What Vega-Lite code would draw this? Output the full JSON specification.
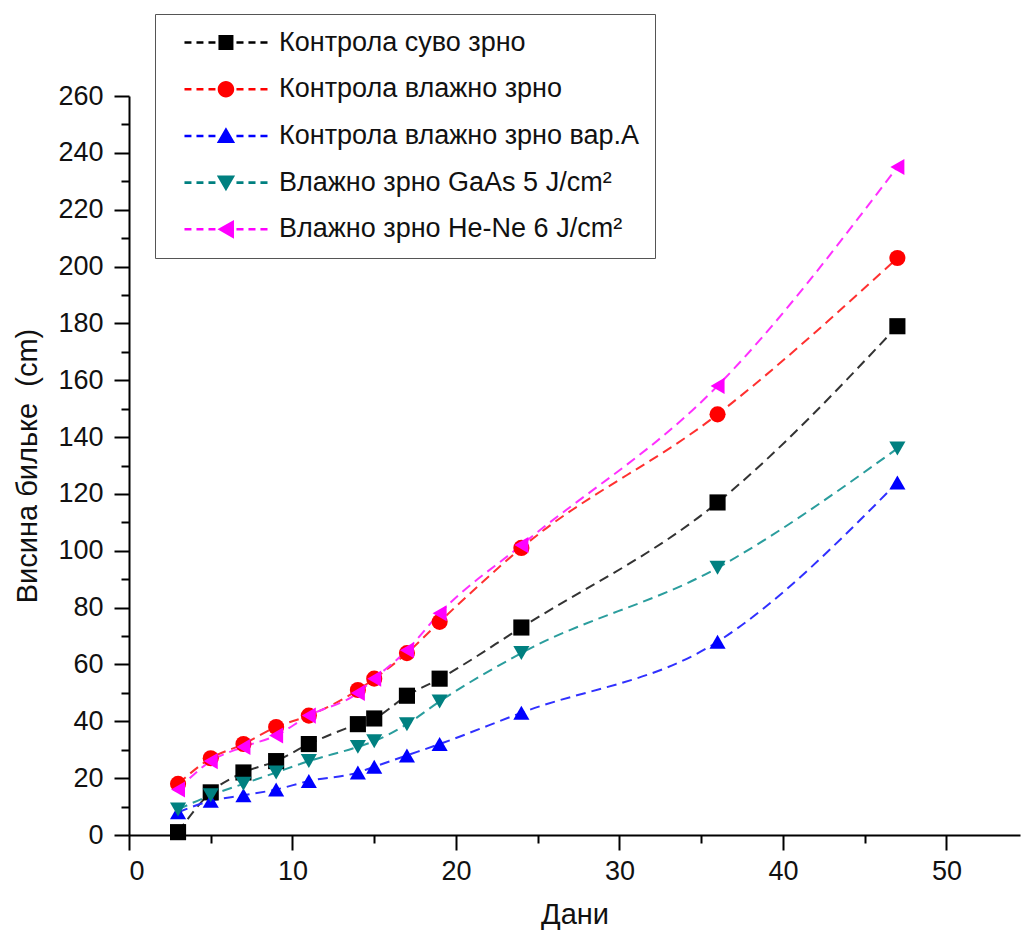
{
  "$schema": "https://vega.github.io/schema/vega-lite/v6.json",
  "autosize": {"type": "none"},
  "padding": {"left": 129, "top": 96, "right": 2, "bottom": 102},
  "width": 891,
  "height": 739,
  "background": "white",
  "config": {
    "view": {"stroke": null},
    "axis": {
      "grid": false,
      "domainColor": "#000",
      "domainWidth": 2,
      "tickColor": "#000",
      "tickWidth": 2,
      "labelFont": "Liberation Sans",
      "labelFontSize": 27,
      "labelColor": "#111",
      "titleFont": "Liberation Sans",
      "titleFontSize": 29,
      "titleFontWeight": "normal",
      "titleColor": "#111"
    }
  },
  "data": {
    "values": [
      {"series": "Контрола суво зрно", "day": 3, "h": 1},
      {"series": "Контрола суво зрно", "day": 5, "h": 15},
      {"series": "Контрола суво зрно", "day": 7, "h": 22},
      {"series": "Контрола суво зрно", "day": 9, "h": 26},
      {"series": "Контрола суво зрно", "day": 11, "h": 32},
      {"series": "Контрола суво зрно", "day": 14, "h": 39},
      {"series": "Контрола суво зрно", "day": 15, "h": 41},
      {"series": "Контрола суво зрно", "day": 17, "h": 49},
      {"series": "Контрола суво зрно", "day": 19, "h": 55},
      {"series": "Контрола суво зрно", "day": 24, "h": 73},
      {"series": "Контрола суво зрно", "day": 36, "h": 117},
      {"series": "Контрола суво зрно", "day": 47, "h": 179},
      {"series": "Контрола влажно зрно", "day": 3, "h": 18},
      {"series": "Контрола влажно зрно", "day": 5, "h": 27},
      {"series": "Контрола влажно зрно", "day": 7, "h": 32},
      {"series": "Контрола влажно зрно", "day": 9, "h": 38},
      {"series": "Контрола влажно зрно", "day": 11, "h": 42},
      {"series": "Контрола влажно зрно", "day": 14, "h": 51},
      {"series": "Контрола влажно зрно", "day": 15, "h": 55},
      {"series": "Контрола влажно зрно", "day": 17, "h": 64},
      {"series": "Контрола влажно зрно", "day": 19, "h": 75},
      {"series": "Контрола влажно зрно", "day": 24, "h": 101},
      {"series": "Контрола влажно зрно", "day": 36, "h": 148},
      {"series": "Контрола влажно зрно", "day": 47, "h": 203},
      {"series": "Контрола влажно зрно вар.А", "day": 3, "h": 8},
      {"series": "Контрола влажно зрно вар.А", "day": 5, "h": 12},
      {"series": "Контрола влажно зрно вар.А", "day": 7, "h": 14},
      {"series": "Контрола влажно зрно вар.А", "day": 9, "h": 16},
      {"series": "Контрола влажно зрно вар.А", "day": 11, "h": 19},
      {"series": "Контрола влажно зрно вар.А", "day": 14, "h": 22},
      {"series": "Контрола влажно зрно вар.А", "day": 15, "h": 24},
      {"series": "Контрола влажно зрно вар.А", "day": 17, "h": 28},
      {"series": "Контрола влажно зрно вар.А", "day": 19, "h": 32},
      {"series": "Контрола влажно зрно вар.А", "day": 24, "h": 43},
      {"series": "Контрола влажно зрно вар.А", "day": 36, "h": 68},
      {"series": "Контрола влажно зрно вар.А", "day": 47, "h": 124},
      {"series": "Влажно зрно  GaAs 5 J/cm²", "day": 3, "h": 9},
      {"series": "Влажно зрно  GaAs 5 J/cm²", "day": 5, "h": 14},
      {"series": "Влажно зрно  GaAs 5 J/cm²", "day": 7, "h": 18},
      {"series": "Влажно зрно  GaAs 5 J/cm²", "day": 9, "h": 22},
      {"series": "Влажно зрно  GaAs 5 J/cm²", "day": 11, "h": 26},
      {"series": "Влажно зрно  GaAs 5 J/cm²", "day": 14, "h": 31},
      {"series": "Влажно зрно  GaAs 5 J/cm²", "day": 15, "h": 33},
      {"series": "Влажно зрно  GaAs 5 J/cm²", "day": 17, "h": 39},
      {"series": "Влажно зрно  GaAs 5 J/cm²", "day": 19, "h": 47},
      {"series": "Влажно зрно  GaAs 5 J/cm²", "day": 24, "h": 64},
      {"series": "Влажно зрно  GaAs 5 J/cm²", "day": 36, "h": 94},
      {"series": "Влажно зрно  GaAs 5 J/cm²", "day": 47, "h": 136},
      {"series": "Влажно зрно  He-Ne 6 J/cm²", "day": 3, "h": 16},
      {"series": "Влажно зрно  He-Ne 6 J/cm²", "day": 5, "h": 26},
      {"series": "Влажно зрно  He-Ne 6 J/cm²", "day": 7, "h": 31},
      {"series": "Влажно зрно  He-Ne 6 J/cm²", "day": 9, "h": 35},
      {"series": "Влажно зрно  He-Ne 6 J/cm²", "day": 11, "h": 42},
      {"series": "Влажно зрно  He-Ne 6 J/cm²", "day": 14, "h": 50},
      {"series": "Влажно зрно  He-Ne 6 J/cm²", "day": 15, "h": 55},
      {"series": "Влажно зрно  He-Ne 6 J/cm²", "day": 17, "h": 65},
      {"series": "Влажно зрно  He-Ne 6 J/cm²", "day": 19, "h": 78},
      {"series": "Влажно зрно  He-Ne 6 J/cm²", "day": 24, "h": 102},
      {"series": "Влажно зрно  He-Ne 6 J/cm²", "day": 36, "h": 158},
      {"series": "Влажно зрно  He-Ne 6 J/cm²", "day": 47, "h": 235}
    ]
  },
  "layer": [
    {
      "mark": {"type": "line", "interpolate": "monotone", "strokeDash": [10, 6], "strokeWidth": 2},
      "encoding": {
        "x": {"field": "day", "type": "quantitative", "scale": {"domain": [0, 54.5], "nice": false, "zero": false},
              "axis": {"values": [0, 10, 20, 30, 40, 50], "tickSize": 15, "labelPadding": 8, "title": "Дани", "titlePadding": 16, "orient": "bottom"}},
        "y": {"field": "h", "type": "quantitative", "scale": {"domain": [0, 260], "nice": false},
              "axis": {"values": [0, 20, 40, 60, 80, 100, 120, 140, 160, 180, 200, 220, 240, 260], "tickSize": 15, "labelPadding": 11, "title": "Висина бильке \u00a0(cm)", "titlePadding": 15, "orient": "left"}},
        "color": {"field": "series", "type": "nominal",
                  "scale": {"domain": ["Контрола суво зрно", "Контрола влажно зрно", "Контрола влажно зрно вар.А", "Влажно зрно  GaAs 5 J/cm²", "Влажно зрно  He-Ne 6 J/cm²"],
                            "range": ["#333333", "#ff3030", "#3030ff", "#2a9d9d", "#ff30ff"]},
                  "legend": null},
        "order": {"field": "day", "type": "quantitative"}
      }
    },
    {
      "mark": {"type": "point", "filled": true, "size": 260, "opacity": 1},
      "encoding": {
        "x": {"field": "day", "type": "quantitative",
              "axis": {"values": [5, 15, 25, 35, 45], "tickSize": 8, "labels": false, "domain": false, "title": null, "orient": "bottom"}},
        "y": {"field": "h", "type": "quantitative",
              "axis": {"values": [10, 30, 50, 70, 90, 110, 130, 150, 170, 190, 210, 230, 250], "tickSize": 8, "labels": false, "domain": false, "title": null, "orient": "left"}},
        "color": {"field": "series", "type": "nominal",
                  "scale": {"domain": ["Контрола суво зрно", "Контрола влажно зрно", "Контрола влажно зрно вар.А", "Влажно зрно  GaAs 5 J/cm²", "Влажно зрно  He-Ne 6 J/cm²"],
                            "range": ["#000000", "#ff0000", "#0000ff", "#008080", "#ff00ff"]},
                  "legend": null},
        "shape": {"field": "series", "type": "nominal",
                  "scale": {"domain": ["Контрола суво зрно", "Контрола влажно зрно", "Контрола влажно зрно вар.А", "Влажно зрно  GaAs 5 J/cm²", "Влажно зрно  He-Ne 6 J/cm²"],
                            "range": ["square", "circle", "triangle-up", "triangle-down", "triangle-left"]},
                  "legend": null}
      }
    },
    {
      "transform": [{"filter": "datum.day < 0"}],
      "mark": {"type": "point", "filled": true, "size": 225, "opacity": 1},
      "encoding": {
        "color": {"field": "series", "type": "nominal",
                  "scale": {"domain": ["Контрола суво зрно", "Контрола влажно зрно", "Контрола влажно зрно вар.А", "Влажно зрно  GaAs 5 J/cm²", "Влажно зрно  He-Ne 6 J/cm²"],
                            "range": ["#000000", "#ff0000", "#0000ff", "#008080", "#ff00ff"]},
                  "legend": {"orient": "none", "legendX": 26, "legendY": -82, "direction": "vertical", "title": null,
                             "padding": 15, "rowPadding": 18.7, "symbolSize": 225, "symbolStrokeWidth": 0, "labelOffset": 82,
                             "labelFont": "Liberation Sans", "labelFontSize": 27, "labelColor": "#111", "strokeColor": "#555", "fillColor": "white", "labelLimit": 700}},
        "shape": {"field": "series", "type": "nominal",
                  "scale": {"domain": ["Контрола суво зрно", "Контрола влажно зрно", "Контрола влажно зрно вар.А", "Влажно зрно  GaAs 5 J/cm²", "Влажно зрно  He-Ne 6 J/cm²"],
                            "range": [
                              "M0.13,-0.17H1.06V0.17H0.13Z M1.73,-0.17H2.66V0.17H1.73Z M3.33,-0.17H4.26V0.17H3.33Z M4.66,-1H6.66V1H4.66Z M7.06,-0.17H8V0.17H7.06Z M8.66,-0.17H9.6V0.17H8.66Z M10.26,-0.17H11.2V0.17H10.26Z",
                              "M0.13,-0.17H1.06V0.17H0.13Z M1.73,-0.17H2.66V0.17H1.73Z M3.33,-0.17H4.26V0.17H3.33Z M6.76,0A1.1,1.1 0 1,1 4.56,0A1.1,1.1 0 1,1 6.76,0Z M7.06,-0.17H8V0.17H7.06Z M8.66,-0.17H9.6V0.17H8.66Z M10.26,-0.17H11.2V0.17H10.26Z",
                              "M0.13,-0.17H1.06V0.17H0.13Z M1.73,-0.17H2.66V0.17H1.73Z M3.33,-0.17H4.26V0.17H3.33Z M5.66,-1.15L6.88,0.95H4.44Z M7.06,-0.17H8V0.17H7.06Z M8.66,-0.17H9.6V0.17H8.66Z M10.26,-0.17H11.2V0.17H10.26Z",
                              "M0.13,-0.17H1.06V0.17H0.13Z M1.73,-0.17H2.66V0.17H1.73Z M3.33,-0.17H4.26V0.17H3.33Z M5.66,1.15L6.88,-0.95H4.44Z M7.06,-0.17H8V0.17H7.06Z M8.66,-0.17H9.6V0.17H8.66Z M10.26,-0.17H11.2V0.17H10.26Z",
                              "M0.13,-0.17H1.06V0.17H0.13Z M1.73,-0.17H2.66V0.17H1.73Z M3.33,-0.17H4.26V0.17H3.33Z M4.53,0L6.73,-1.25V1.25Z M7.06,-0.17H8V0.17H7.06Z M8.66,-0.17H9.6V0.17H8.66Z M10.26,-0.17H11.2V0.17H10.26Z"
                            ]},
                  "legend": {"orient": "none", "legendX": 26, "legendY": -82, "direction": "vertical", "title": null,
                             "padding": 15, "rowPadding": 18.7, "symbolSize": 225, "symbolStrokeWidth": 0, "labelOffset": 82,
                             "labelFont": "Liberation Sans", "labelFontSize": 27, "labelColor": "#111", "strokeColor": "#555", "fillColor": "white", "labelLimit": 700}}
      }
    }
  ],
  "resolve": {
    "scale": {"color": "independent", "shape": "independent"},
    "axis": {"x": "independent", "y": "independent"}
  }
}
